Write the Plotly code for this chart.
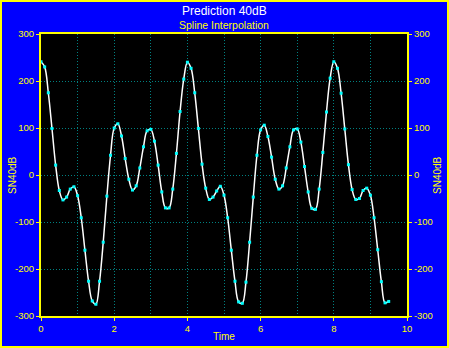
import plotly.graph_objects as go

time = [0.0, 0.1, 0.2, 0.3, 0.4, 0.5, 0.6, 0.7, 0.8, 0.9,
        1.0, 1.1, 1.2, 1.3, 1.4, 1.5, 1.6, 1.7, 1.8, 1.9,
        2.0, 2.1, 2.2, 2.3, 2.4, 2.5, 2.6, 2.7, 2.8, 2.9,
        3.0, 3.1, 3.2, 3.3, 3.4, 3.5, 3.6, 3.7, 3.8, 3.9,
        4.0, 4.1, 4.2, 4.3, 4.4, 4.5, 4.6, 4.7, 4.8, 4.9,
        5.0, 5.1, 5.2, 5.3, 5.4, 5.5, 5.6, 5.7, 5.8, 5.9,
        6.0, 6.1, 6.2, 6.3, 6.4, 6.5, 6.6, 6.7, 6.8, 6.9,
        7.0, 7.1, 7.2, 7.3, 7.4, 7.5, 7.6, 7.7, 7.8, 7.9,
        8.0, 8.1, 8.2, 8.3, 8.4, 8.5, 8.6, 8.7, 8.8, 8.9,
        9.0, 9.1, 9.2, 9.3, 9.4, 9.5]

sn40db = [241, 230, 175, 99, 21, -33, -53, -47, -30, -25,
          -44, -91, -160, -226, -268, -275, -226, -143, -45, 42,
          100, 109, 83, 35, -9, -32, -23, 15, 60, 94,
          97, 72, 21, -36, -70, -70, -30, 46, 135, 204,
          240, 227, 175, 99, 23, -28, -52, -47, -34, -24,
          -43, -91, -160, -226, -270, -273, -228, -143, -47, 42,
          96, 106, 82, 38, -9, -30, -23, 15, 60, 96,
          98, 70, 18, -36, -71, -73, -30, 48, 134, 206,
          241, 227, 174, 98, 22, -31, -52, -50, -33, -28,
          -43, -91, -159, -227, -272, -269]

x_ticks = [0, 2, 4, 6, 8, 10]
y_ticks = [-300, -200, -100, 0, 100, 200, 300]

YEL = "#FFFF00"
GRID = "#008080"
DASH = "1px,2px"
FONT = "Liberation Sans, Arial, sans-serif"

fig = go.Figure()
fig.add_trace(go.Scatter(
    x=time, y=sn40db, mode="lines+markers",
    line=dict(color="white", width=1.5, shape="spline", smoothing=1),
    marker=dict(color="#00FFFF", size=3, symbol="square", line=dict(width=0)),
    showlegend=False, hoverinfo="skip"))
# invisible trace for right axis
fig.add_trace(go.Scatter(x=[time[0]], y=[sn40db[0]], yaxis="y2", mode="markers",
                         marker=dict(opacity=0), showlegend=False, hoverinfo="skip"))

W, H = 449, 348
L, R, T, B = 41, 42, 34, 32
pw, ph = W - L - R, H - T - B

axis_common = dict(
    showline=True, linecolor=YEL, linewidth=2,
    ticks="outside", ticklen=3, tickcolor=YEL, tickwidth=1,
    tickfont=dict(color=YEL, size=9.5, family=FONT),
    showgrid=True, gridcolor=GRID, griddash=DASH, gridwidth=1,
    zeroline=False, automargin=False,
)

fig.update_layout(
    width=W, height=H,
    margin=dict(l=L, r=R, t=T, b=B, pad=0),
    paper_bgcolor="#0000FF", plot_bgcolor="black",
    xaxis=dict(range=[0, 10], tickvals=x_ticks, ticktext=[str(v) for v in x_ticks],
               minor=dict(dtick=1, showgrid=True, gridcolor=GRID, griddash=DASH, gridwidth=1, ticks=""),
               mirror=True, **axis_common),
    yaxis=dict(range=[-300, 300], tickvals=y_ticks, ticktext=[str(v) for v in y_ticks],
               mirror=True, **axis_common),
    yaxis2=dict(range=[-300, 300], tickvals=y_ticks, ticktext=[str(v) for v in y_ticks],
                overlaying="y", side="right",
                showline=True, linecolor=YEL, linewidth=2,
                ticks="outside", ticklen=3, tickcolor=YEL,
                tickfont=dict(color=YEL, size=9.5, family=FONT),
                showgrid=False, zeroline=False, automargin=False),
    shapes=[dict(type="rect", xref="paper", yref="paper",
                 x0=(-L + 1) / pw, x1=1 + (R - 1) / pw,
                 y0=(-B + 1) / ph, y1=1 + (T - 1) / ph,
                 line=dict(color=YEL, width=2), fillcolor="rgba(0,0,0,0)", layer="above")],
    annotations=[
        dict(text="Prediction 40dB", xref="paper", yref="paper", x=0.5, y=1 + (T - 11) / ph,
             showarrow=False, font=dict(color="white", size=12, family=FONT), yanchor="middle"),
        dict(text="Spline Interpolation", xref="paper", yref="paper", x=0.5, y=1 + (T - 25) / ph,
             showarrow=False, font=dict(color=YEL, size=10.5, family=FONT), yanchor="middle"),
        dict(text="Time", xref="paper", yref="paper", x=0.5, y=-(336.5 - (H - B)) / ph,
             showarrow=False, font=dict(color=YEL, size=10, family=FONT), yanchor="middle"),
        dict(text="SN40dB", xref="paper", yref="paper", x=-(L - 12) / pw, y=0.5, textangle=-90,
             showarrow=False, font=dict(color=YEL, size=10, family=FONT), xanchor="center"),
        dict(text="SN40dB", xref="paper", yref="paper", x=1 + (437 - (W - R)) / pw, y=0.5, textangle=-90,
             showarrow=False, font=dict(color=YEL, size=10, family=FONT), xanchor="center"),
    ],
)

fig.write_html("out.html", config={"displayModeBar": False},
               post_script="document.body.style.margin='0';document.body.style.padding='0';")
